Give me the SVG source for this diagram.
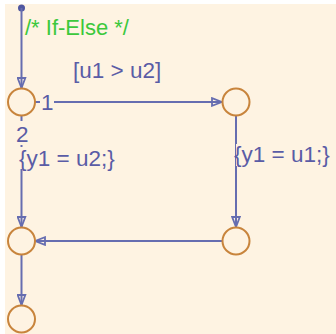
<svg xmlns="http://www.w3.org/2000/svg" width="336" height="334" viewBox="0 0 336 334">
<defs>
<style>
.bg{fill:#fef3e2}
.st{fill:none;stroke:#c8843c;stroke-width:2}
.ln{fill:none;stroke:#666db0;stroke-width:2}
.lb{font-family:"Liberation Sans",Arial,sans-serif;font-size:22.5px;fill:#5a5ca6}
.cm{font-family:"Liberation Sans",Arial,sans-serif;font-size:22px;fill:#3cc83c}
</style>
<marker id="ah" viewBox="0 0 12 10" refX="11" refY="5" markerWidth="12" markerHeight="10" markerUnits="userSpaceOnUse" orient="auto">
<path d="M1,1.2 L11,5 L1,8.8 Z" fill="none" stroke="#666db0" stroke-width="1.8"/>
</marker>
</defs>
<rect x="0" y="0" width="336" height="334" fill="#ffffff"/>
<rect class="bg" x="5" y="4" width="331" height="330"/>
<g id="connectors">
<circle cx="21.5" cy="8" r="3.5" fill="#4f56a0"/>
<path class="ln" d="M21.5,8 V88" marker-end="url(#ah)"/>
<path class="ln" d="M35,102 H222" marker-end="url(#ah)"/>
<path class="ln" d="M236,116 V227" marker-end="url(#ah)"/>
<path class="ln" d="M222,241 H35" marker-end="url(#ah)"/>
<path class="ln" d="M21.5,116 V227" marker-end="url(#ah)"/>
<path class="ln" d="M21.5,255 V305" marker-end="url(#ah)"/>
</g>
<g id="labels">
<text class="cm" x="25" y="35">/* If-Else */</text>
<text class="lb" x="73" y="78">[u1 &gt; u2]</text>
<rect class="bg" x="40" y="92" width="14" height="20"/>
<text class="lb" x="41" y="110">1</text>
<rect class="bg" x="15" y="121" width="14" height="24"/>
<text class="lb" x="16" y="142">2</text>
<rect class="bg" x="18" y="147" width="110" height="22"/>
<text class="lb" x="19" y="166">{y1 = u2;}</text>
<rect class="bg" x="236" y="144" width="98" height="22"/>
<text class="lb" x="234" y="162">{y1 = u1;}</text>
</g>
<g id="nodeA"><circle class="st" cx="21.5" cy="102" r="13.5"/></g>
<g id="nodeB"><circle class="st" cx="236" cy="102" r="13.5"/></g>
<g id="nodeC"><circle class="st" cx="236" cy="241" r="13.5"/></g>
<g id="nodeD"><circle class="st" cx="21.5" cy="241" r="13.5"/></g>
<g id="nodeE"><circle class="st" cx="21.5" cy="319" r="13.5"/></g>
</svg>
